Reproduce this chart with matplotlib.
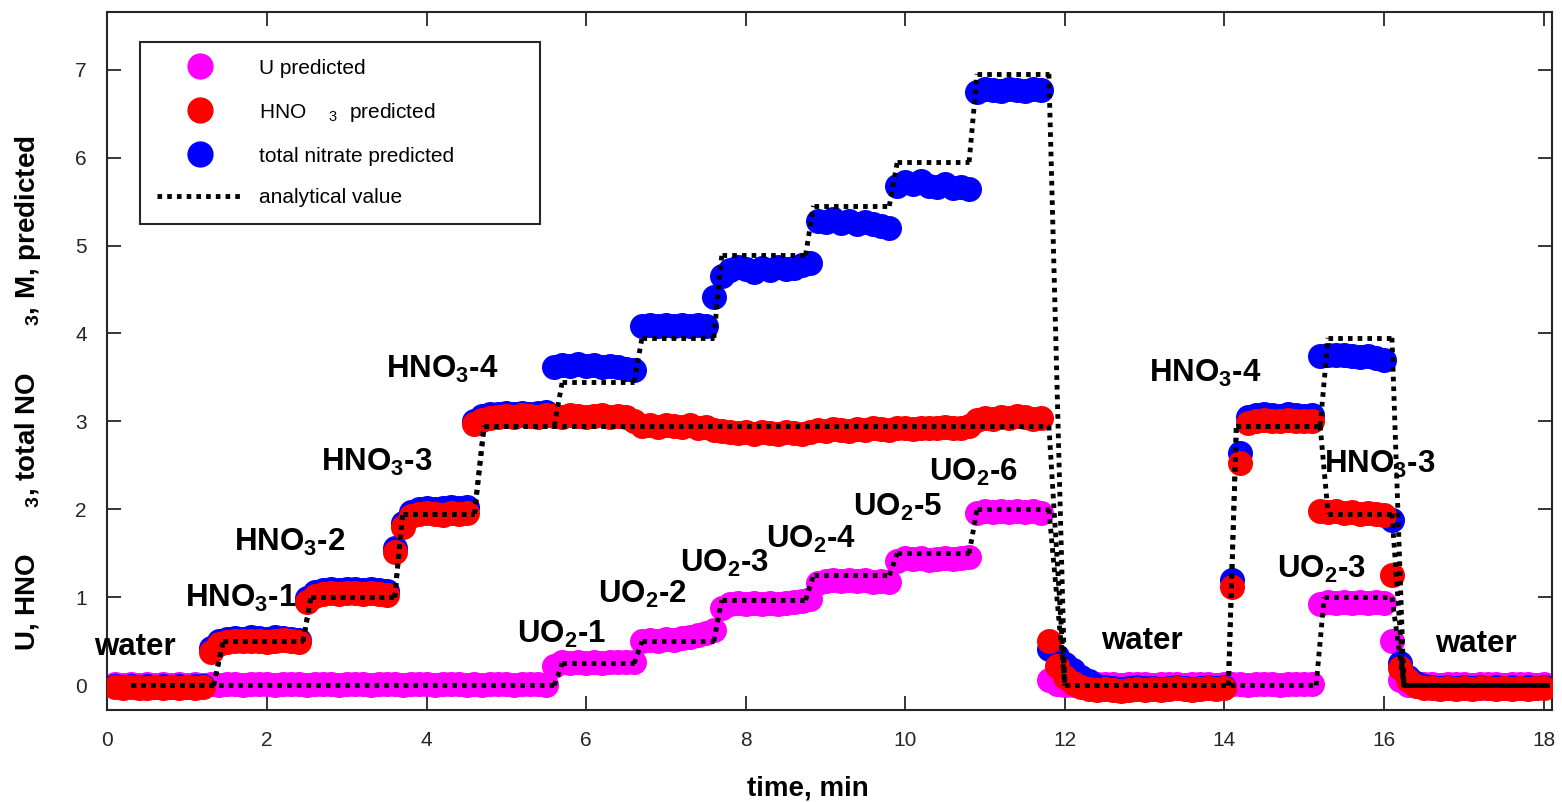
import numpy as np
import matplotlib
matplotlib.use("Agg")
import matplotlib.pyplot as plt
from matplotlib.collections import LineCollection
from matplotlib.lines import Line2D

plt.rcParams['font.family'] = ['Liberation Sans', 'DejaVu Sans']
plt.rcParams['mathtext.fontset'] = 'custom'
plt.rcParams['mathtext.default'] = 'regular'

# ---------------- data ----------------
# sampling clock of the predictions (min)
time = np.round(np.arange(1, 181) * 0.1, 1)

u_pred = [
    0.01, 0.0, 0.01, 0.0, 0.01, 0.0, 0.01, 0.0, 0.01, 0.0,
    0.01, 0.0, 0.01, 0.0, 0.02, 0.01, 0.0, 0.01, 0.02, 0.01,
    0.0, 0.01, 0.02, 0.01, 0.0, 0.01, 0.02, 0.01, 0.0, 0.01,
    0.02, 0.01, 0.0, 0.01, 0.02, 0.01, 0.0, 0.01, 0.02, 0.01,
    0.0, 0.01, 0.02, 0.01, 0.0, 0.01, 0.0, 0.01, 0.02, 0.01,
    0.0, 0.01, 0.02, 0.01, 0.0, 0.22, 0.26, 0.25, 0.26, 0.25,
    0.26, 0.25, 0.26, 0.27, 0.26, 0.27, 0.50, 0.52, 0.51, 0.53,
    0.52, 0.54, 0.55, 0.57, 0.59, 0.63, 0.88, 0.93, 0.94, 0.93,
    0.94, 0.93, 0.94, 0.93, 0.94, 0.95, 0.96, 0.98, 1.16, 1.19,
    1.20, 1.19, 1.20, 1.19, 1.20, 1.18, 1.19, 1.18, 1.41, 1.45,
    1.44, 1.45, 1.43, 1.44, 1.45, 1.44, 1.45, 1.46, 1.96, 1.98,
    1.97, 1.98, 1.97, 1.98, 1.97, 1.98, 1.96, 0.06, 0.02, 0.0,
    0.0, 0.01, 0.0, 0.01, 0.02, 0.01, 0.0, 0.01, 0.02, 0.01,
    0.0, 0.01, 0.02, 0.01, 0.0, 0.01, 0.02, 0.01, 0.0, 0.01,
    0.02, 0.01, 0.0, 0.01, 0.02, 0.01, 0.0, 0.01, 0.02, 0.01,
    0.01, 0.93, 0.95, 0.94, 0.95, 0.94, 0.95, 0.94, 0.95, 0.94,
    0.50, 0.06, 0.0, 0.01, 0.02, 0.01, 0.0, 0.01, 0.02, 0.01,
    0.0, 0.01, 0.02, 0.01, 0.0, 0.01, 0.02, 0.01, 0.0, 0.01,
]

hno3_pred = [
    -0.02, -0.03, -0.02, -0.03, -0.03, -0.02, -0.03, -0.02, -0.03, -0.02,
    -0.03, -0.02, 0.38, 0.47, 0.49, 0.50, 0.50, 0.51, 0.50, 0.49,
    0.51, 0.52, 0.50, 0.49, 0.95, 1.02, 1.04, 1.05, 1.04, 1.05,
    1.05, 1.04, 1.05, 1.04, 1.03, 1.52, 1.80, 1.92, 1.95, 1.96,
    1.95, 1.94, 1.96, 1.95, 1.96, 2.97, 3.02, 3.04, 3.05, 3.06,
    3.05, 3.07, 3.06, 3.05, 3.07, 3.06, 3.05, 3.07, 3.06, 3.05,
    3.06, 3.07, 3.05, 3.06, 3.05, 3.00, 2.95, 2.96, 2.94, 2.96,
    2.95, 2.94, 2.96, 2.93, 2.94, 2.90, 2.89, 2.88, 2.87, 2.88,
    2.86, 2.88, 2.87, 2.86, 2.88, 2.87, 2.86, 2.88, 2.90, 2.89,
    2.91, 2.90, 2.89, 2.91, 2.90, 2.92, 2.91, 2.90, 2.92, 2.93,
    2.91, 2.92, 2.93, 2.92, 2.94, 2.93, 2.92, 2.95, 3.02, 3.04,
    3.03, 3.05, 3.04, 3.06, 3.05, 3.03, 3.04, 0.50, 0.22, 0.10,
    0.03, -0.02, -0.04, -0.05, -0.04, -0.05, -0.06, -0.05, -0.04, -0.05,
    -0.04, -0.05, -0.04, -0.03, -0.04, -0.05, -0.04, -0.03, -0.04, -0.03,
    1.12, 2.53, 2.98, 3.00, 3.02, 3.01, 3.00, 3.02, 3.01, 3.00,
    3.01, 1.98, 1.97, 1.98, 1.96, 1.97, 1.95, 1.96, 1.95, 1.94,
    1.26, 0.20, 0.06, -0.01, -0.03, -0.03, -0.04, -0.03, -0.04, -0.03,
    -0.04, -0.03, -0.03, -0.04, -0.03, -0.04, -0.03, -0.04, -0.03, -0.03,
]

total_pred = [
    -0.01, -0.02, -0.01, -0.02, -0.01, -0.02, -0.01, -0.02, -0.01, -0.02,
    -0.01, -0.01, 0.42, 0.51, 0.53, 0.54, 0.53, 0.55, 0.54, 0.53,
    0.55, 0.54, 0.53, 0.52, 0.99, 1.06, 1.08, 1.09, 1.08, 1.09,
    1.09, 1.08, 1.09, 1.08, 1.07, 1.56, 1.85, 1.97, 2.00, 2.02,
    2.01, 2.02, 2.03, 2.02, 2.03, 3.00, 3.06, 3.08, 3.09, 3.10,
    3.09, 3.10, 3.09, 3.10, 3.11, 3.62, 3.64, 3.63, 3.65, 3.63,
    3.64, 3.62, 3.63, 3.62, 3.60, 3.58, 4.08, 4.10, 4.09, 4.10,
    4.09, 4.10, 4.08, 4.10, 4.09, 4.42, 4.65, 4.72, 4.75, 4.73,
    4.70, 4.74, 4.72, 4.75, 4.73, 4.74, 4.78, 4.80, 5.28, 5.27,
    5.30, 5.26, 5.28, 5.25, 5.27, 5.24, 5.22, 5.20, 5.68, 5.72,
    5.70, 5.73, 5.68, 5.66, 5.70, 5.65, 5.66, 5.64, 6.75, 6.78,
    6.77, 6.76, 6.78, 6.77, 6.76, 6.78, 6.77, 0.41, 0.33, 0.24,
    0.17, 0.10, 0.05, -0.01, -0.02, -0.03, -0.04, -0.03, -0.02, -0.03,
    -0.03, -0.04, -0.03, -0.02, -0.03, -0.04, -0.03, -0.02, -0.03, -0.02,
    1.20, 2.64, 3.05, 3.07, 3.08, 3.07, 3.06, 3.08, 3.07, 3.06,
    3.07, 3.74, 3.76, 3.75, 3.76, 3.74, 3.73, 3.74, 3.72, 3.70,
    1.88, 0.25, 0.10, 0.03, -0.01, -0.02, -0.03, -0.02, -0.03, -0.02,
    -0.03, -0.02, -0.03, -0.02, -0.03, -0.02, -0.03, -0.02, -0.03, -0.02,
]

# analytical (step) values: knots in time and value
an_u_t = [0.3, 5.6, 5.7, 6.6, 6.7, 7.6, 7.7, 8.75, 8.85, 9.8, 9.9, 10.8, 10.9,
          11.8, 12.0, 15.15, 15.25, 16.1, 16.25, 18.05]
an_u = [0, 0, 0.25, 0.25, 0.5, 0.5, 0.97, 0.97, 1.25, 1.25, 1.5, 1.5, 2.0,
        2.0, 0, 0, 1.0, 1.0, 0, 0]
an_hno3_t = [0.3, 1.33, 1.45, 2.45, 2.55, 3.6, 3.7, 4.6, 4.72, 11.8, 12.0,
             14.05, 14.15, 15.2, 15.3, 16.1, 16.25, 18.05]
an_hno3 = [0, 0, 0.5, 0.5, 1.0, 1.0, 1.95, 1.95, 2.95, 2.95, 0,
           0, 2.95, 2.95, 1.95, 1.95, 0, 0]
an_total_t = [0.3, 1.33, 1.45, 2.45, 2.55, 3.6, 3.7, 4.6, 4.72, 5.6, 5.7, 6.6,
              6.7, 7.6, 7.7, 8.75, 8.85, 9.8, 9.9, 10.8, 10.9, 11.8, 12.0,
              14.05, 14.15, 15.2, 15.3, 16.1, 16.25, 18.05]
an_total = [0, 0, 0.5, 0.5, 1.0, 1.0, 1.95, 1.95, 2.95, 2.95, 3.45, 3.45,
            3.95, 3.95, 4.89, 4.89, 5.45, 5.45, 5.95, 5.95, 6.95, 6.95, 0,
            0, 2.95, 2.95, 3.95, 3.95, 0, 0]
# last water rinse (analytical, drawn solid)
an_end_t = [16.22, 16.25, 18.05]
an_end = [0.3, 0.0, 0.0]

# stage labels
label_text = ['water', 'HNO$_3$-1', 'HNO$_3$-2', 'HNO$_3$-3', 'HNO$_3$-4',
              'UO$_2$-1', 'UO$_2$-2', 'UO$_2$-3', 'UO$_2$-4', 'UO$_2$-5', 'UO$_2$-6',
              'water', 'HNO$_3$-4', 'HNO$_3$-3', 'UO$_2$-3', 'water']
label_x = [0.34, 1.67, 2.28, 3.37, 4.19, 5.69, 6.71, 7.73, 8.82, 9.90, 10.86,
           12.96, 13.76, 15.95, 15.22, 17.15]
label_y = [0.35, 0.89, 1.53, 2.44, 3.50, 0.48, 0.935, 1.29, 1.56, 1.93, 2.32,
           0.41, 3.45, 2.41, 1.22, 0.38]

# ---------------- figure ----------------
W, H = 1562, 802
fig = plt.figure(figsize=(W / 100, H / 100), dpi=100)
L, R, T, B = 107.5, 1551.5, 11.5, 710
ax = fig.add_axes([L / W, 1 - B / H, (R - L) / W, (B - T) / H])

ms = 18
ax.plot(time, u_pred, 'o', color='#FF00FF', ms=ms, mec='none', zorder=2)
ax.plot(time, total_pred, 'o', color='#0000FF', ms=ms, mec='none', zorder=3)
ax.plot(time, hno3_pred, 'o', color='#FF0000', ms=ms, mec='none', zorder=4)

lw_an = 3.5
dots = (0, (0.95, 1.05))
segs = []
for tt, yy in ((an_u_t, an_u), (an_hno3_t, an_hno3), (an_total_t, an_total)):
    for i in range(len(tt) - 1):
        segs.append([(tt[i], yy[i]), (tt[i + 1], yy[i + 1])])
lc = LineCollection(segs, colors='black', linewidths=lw_an, linestyles=[dots],
                    capstyle='butt', zorder=5)
ax.add_collection(lc)
ax.plot(an_end_t, an_end, '-', color='black', lw=lw_an, zorder=5)

for s, x, y in zip(label_text, label_x, label_y):
    ax.text(x, y, s, ha='center', va='baseline', fontsize=22.5,
            fontweight='bold', color='black', zorder=6)

ax.set_xlim(0, 18.1)
ax.set_ylim(-0.28, 7.66)
ax.set_xticks(range(0, 19, 2))
ax.set_yticks(range(0, 8))
spc = '#262626'
for sp in ax.spines.values():
    sp.set_color(spc)
    sp.set_linewidth(1.5)
ax.tick_params(direction='in', length=10, width=1.3, top=True, right=True,
               labelsize=15, pad=15, colors=spc, labelcolor=spc)

fig.text(808 / W, 1 - 788 / H, 'time, min', ha='center', va='center',
         fontsize=20, fontweight='bold')
fig.text(28 / W, 1 - 393 / H,
         'U, HNO      $_3$, total NO      $_3$, M, predicted',
         rotation=90, ha='center', va='center', fontsize=20, fontweight='bold')

handles = [
    Line2D([], [], ls='none', marker='o', color='#FF00FF', ms=ms, mec='none'),
    Line2D([], [], ls='none', marker='o', color='#FF0000', ms=ms, mec='none'),
    Line2D([], [], ls='none', marker='o', color='#0000FF', ms=ms, mec='none'),
    Line2D([], [], ls=dots, color='black', lw=lw_an),
]
labels = ['U predicted', 'HNO    $_3$  predicted', 'total nitrate predicted',
          'analytical value']
x0 = (140 - L) / (R - L)
y1 = (B - 42) / (B - T)
wd = 400 / (R - L)
leg = ax.legend(handles, labels, loc='upper left',
                bbox_to_anchor=(x0, y1 - 0.3, wd, 0.3), mode='expand',
                borderaxespad=0, fontsize=15, handlelength=4.2,
                handletextpad=0.7, labelspacing=1.1, borderpad=0.8,
                markerscale=1.05, fancybox=False, framealpha=1,
                edgecolor=spc)
leg.get_frame().set_linewidth(1.5)
leg.set_zorder(10)

fig.savefig('out.png', dpi=100)
